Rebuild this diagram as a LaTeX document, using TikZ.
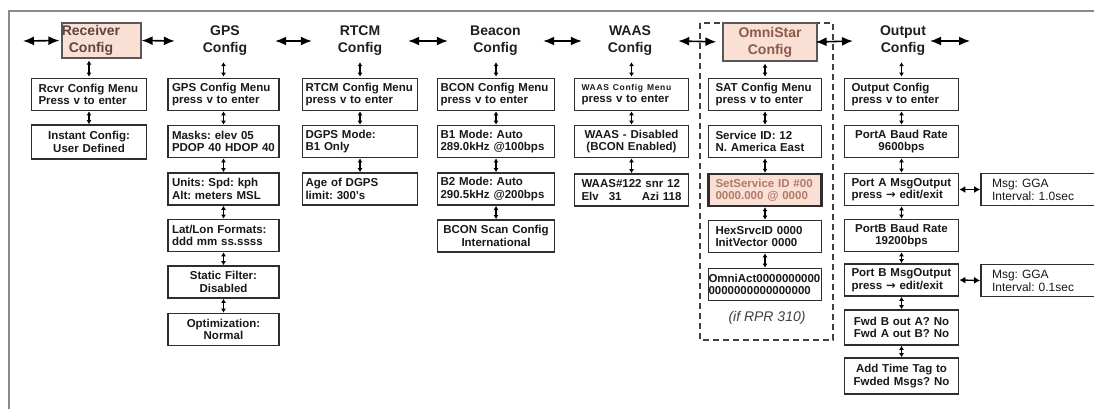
\documentclass[tikz,border=0pt]{standalone}
\usepackage{fontspec}
\setmainfont{Liberation Sans}
\newfontfamily\dejavu{DejaVu Sans}
\usetikzlibrary{arrows.meta}
\definecolor{pinkf}{HTML}{FADFD5}
\definecolor{rcvtxt}{HTML}{5E463E}
\definecolor{omtxt}{HTML}{8A5A4A}
\definecolor{sstxt}{HTML}{B07A68}
\definecolor{framec}{HTML}{8A8A8A}
\definecolor{boxc}{HTML}{2E2E2E}
\begin{document}
\begin{tikzpicture}[x=1pt,y=-1pt,
  bx/.style={draw=boxc, line width=1.7pt, minimum height=32pt, inner ysep=2pt,
    font={\bfseries\fontsize{11.5}{12.5}\selectfont\frenchspacing\hyphenpenalty=10000\exhyphenpenalty=10000},
    align=left, text=black!90},
  hdr/.style={font=\bfseries\fontsize{14}{17}\selectfont, align=center, minimum height=38pt, inner sep=0pt, text=black!88},
  hbox/.style={draw=boxc!80, line width=1.2pt, fill=pinkf, inner sep=0pt},
  harr/.style={line width=1.6pt, {Latex[length=11pt,width=9pt]}-{Latex[length=11pt,width=9pt]}},
  varr/.style={line width=1.1pt, {Latex[length=4pt,width=5pt]}-{Latex[length=4pt,width=5pt]}},
  marr/.style={line width=1.4pt, {Latex[length=6pt,width=7pt]}-{Latex[length=6pt,width=7pt]}},
  cR/.style={text width=101pt, inner xsep=7pt},
  cG/.style={text width=103pt, inner xsep=4pt},
  cT/.style={text width=109pt, inner xsep=3pt},
  cB/.style={text width=111pt, inner xsep=3pt},
  cW/.style={text width=100pt, inner xsep=7pt},
  cO/.style={text width=99pt, inner xsep=7pt},
  cP/.style={text width=100pt, inner xsep=7pt},
  cM/.style={text width=120pt, inner xsep=11pt},
]
\useasboundingbox (0,0) rectangle (1094,409);
\clip (0,0) rectangle (1094,409);
\fill[white] (0,0) rectangle (1094,409);

% frame
\draw[framec, line width=1.8pt] (9,409) -- (9,11) -- (1094,11);

% dashed OmniStar group
\draw[dashed, dash pattern=on 6pt off 4pt, line width=1.4pt, black!75] (700,23) rectangle (833,340);

% headers
\node[hbox, minimum width=79pt, minimum height=35pt] (rcv) at (101.5,40.5) {};
\node[hdr, text=rcvtxt, minimum height=0pt] (rcvt) at (91,40.5) {Receiver\\Config};
\node[hdr, minimum width=100pt] (gps) at (225,41) {GPS\\Config};
\node[hdr, minimum width=96pt] (rtcm) at (360,41) {RTCM\\Config};
\node[hdr, minimum width=95pt] (bcn) at (495.5,41) {Beacon\\Config};
\node[hdr, minimum width=96pt] (waas) at (630,41) {WAAS\\Config};
\node[hbox, hdr, text=omtxt, minimum width=94pt, minimum height=38pt] (omni) at (770,42) {OmniStar\\Config};
\node[hdr] (outh) at (903,41) {Output\\Config};

\coordinate (a0) at (23,41);
\coordinate (o1) at (853,41);
\coordinate (o2) at (930,41);
\coordinate (o3) at (970,41);

% horizontal arrows
\draw[harr, shorten >=2pt] (a0) -- (rcv.west);
\draw[harr] (rcv.east) -- (gps.west);
\draw[harr] (gps.east) -- (rtcm.west);
\draw[harr] (rtcm.east) -- (bcn.west);
\draw[harr] (bcn.east) -- (waas.west);
\draw[harr, shorten >=6pt] (waas.east) -- (omni.west);
\draw[harr, shorten <=-2pt] (omni.east) -- (o1);
\draw[harr] (o2) -- (o3);

% column 1
\node[bx, cR] (r1) at (89,94.5) {Rcvr Config Menu\\Press v to enter};
\node[bx, cR, align=center, minimum height=34pt] (r2) at (89,142) {Instant Config:\\User Defined};

% GPS
\node[bx, cG] (g1) at (223.5,94.5) {GPS Config Menu\\press v to enter};
\node[bx, cG] (g2) at (223.5,141.5) {Masks: elev 05\\PDOP 40 HDOP 40};
\node[bx, cG] (g3) at (223.5,189) {Units: Spd: kph\\Alt: meters MSL};
\node[bx, cG] (g4) at (223.5,235.5) {Lat/Lon Formats:\\ddd mm ss.ssss};
\node[bx, cG, align=center] (g5) at (223.5,282) {Static Filter:\\Disabled};
\node[bx, cG, align=center] (g6) at (223.5,329.5) {Optimization:\\Normal};

% RTCM
\node[bx, cT] (t1) at (360,94.5) {RTCM Config Menu\\press v to enter};
\node[bx, cT] (t2) at (360,141.5) {DGPS Mode:\\B1 Only};
\node[bx, cT] (t3) at (360,189) {Age of DGPS\\limit: 300's};

% Beacon
\node[bx, cB] (b1) at (496,94.5) {BCON Config Menu\\press v to enter};
\node[bx, cB] (b2) at (496,141.5) {B1 Mode: Auto\\289.0kHz @100bps};
\node[bx, cB] (b3) at (496,189) {B2 Mode: Auto\\290.5kHz @200bps};
\node[bx, cB, align=center] (b4) at (496,236) {BCON Scan Config\\International};

% WAAS
\node[bx, cW] (w1) at (631.5,94.5) {{\fontsize{8.5}{10}\selectfont\addfontfeature{LetterSpace=8}WAAS Config Menu}\\press v to enter};
\node[bx, cW, align=center] (w2) at (631.5,141.5) {WAAS - Disabled\\(BCON Enabled)};
\node[bx, cW] (w3) at (631.5,190) {WAAS\#122 snr 12\\Elv\hspace{10pt}31\hfill Azi 118};

% OmniStar
\node[bx, cO] (m1) at (765,94.5) {SAT Config Menu\\press v to enter};
\node[bx, cO] (m2) at (765,141.5) {Service ID: 12\\N. America East};
\node[bx, cO, fill=pinkf, text=sstxt, line width=2.4pt] (m3) at (765,190) {SetService ID \#00\\0000.000 @ 0000};
\node[bx, cO] (m4) at (765,236.5) {HexSrvcID 0000\\InitVector 0000};
\node[bx, text width=113pt, inner xsep=0pt] (m5) at (765,284.5) {OmniAct0000000000\\0000000000000000};
\node[font=\itshape\fontsize{14}{16}\selectfont, text=black!75] (rpr) at (767,318) {(if RPR 310)};

% Output
\node[bx, cP] (p1) at (901.5,94.5) {Output Config\\press v to enter};
\node[bx, cP, align=center] (p2) at (901.5,141.5) {PortA Baud Rate\\9600bps};
\node[bx, cP] (p3) at (901.5,189.5) {Port A MsgOutput\\press {\dejavu →} edit/exit};
\node[bx, cP, align=center] (p4) at (901.5,235.5) {PortB Baud Rate\\19200bps};
\node[bx, cP] (p5) at (901.5,280) {Port B MsgOutput\\press {\dejavu →} edit/exit};
\node[bx, cP, align=center, minimum height=35pt] (p6) at (901.5,327.5) {Fwd B out A? No\\Fwd A out B? No};
\node[bx, cP, align=center, minimum height=36pt] (p7) at (901.5,376) {Add Time Tag to\\Fwded Msgs? No};

% Msg boxes
\node[bx, cM, font={\fontsize{12}{13}\selectfont\frenchspacing}] (q1) at (1052,189.5) {Msg: GGA\\Interval: 1.0sec};
\node[bx, cM, font={\fontsize{12}{13}\selectfont\frenchspacing}] (q2) at (1052,280.5) {Msg: GGA\\Interval: 0.1sec};
\draw[marr] (p3.east) -- (q1.west);
\draw[marr] (p5.east) -- (q2.west);

% vertical arrows header -> first box
\draw[varr, shorten <=2pt, shorten >=1pt] (rcv.south -| r1.north) -- (r1.north);
\draw[varr, shorten <=2pt, shorten >=1pt] (gps.south -| g1.north) -- (g1.north);
\draw[varr, shorten <=2pt, shorten >=1pt] (rtcm.south -| t1.north) -- (t1.north);
\draw[varr, shorten <=2pt, shorten >=1pt] (bcn.south -| b1.north) -- (b1.north);
\draw[varr, shorten <=2pt, shorten >=1pt] (waas.south -| w1.north) -- (w1.north);
\draw[varr, shorten <=2pt, shorten >=1pt] (omni.south -| m1.north) -- (m1.north);
\draw[varr, shorten <=2pt, shorten >=1pt] (outh.south -| p1.north) -- (p1.north);

% vertical arrows between boxes
\foreach \a/\b in {r1/r2, g1/g2, g2/g3, g3/g4, g4/g5, g5/g6, t1/t2, t2/t3,
  b1/b2, b2/b3, b3/b4, w1/w2, w2/w3, m1/m2, m2/m3, m3/m4, m4/m5,
  p1/p2, p2/p3, p3/p4, p4/p5, p5/p6, p6/p7}
  \draw[varr] (\a.south) -- (\b.north);
\end{tikzpicture}
\end{document}
